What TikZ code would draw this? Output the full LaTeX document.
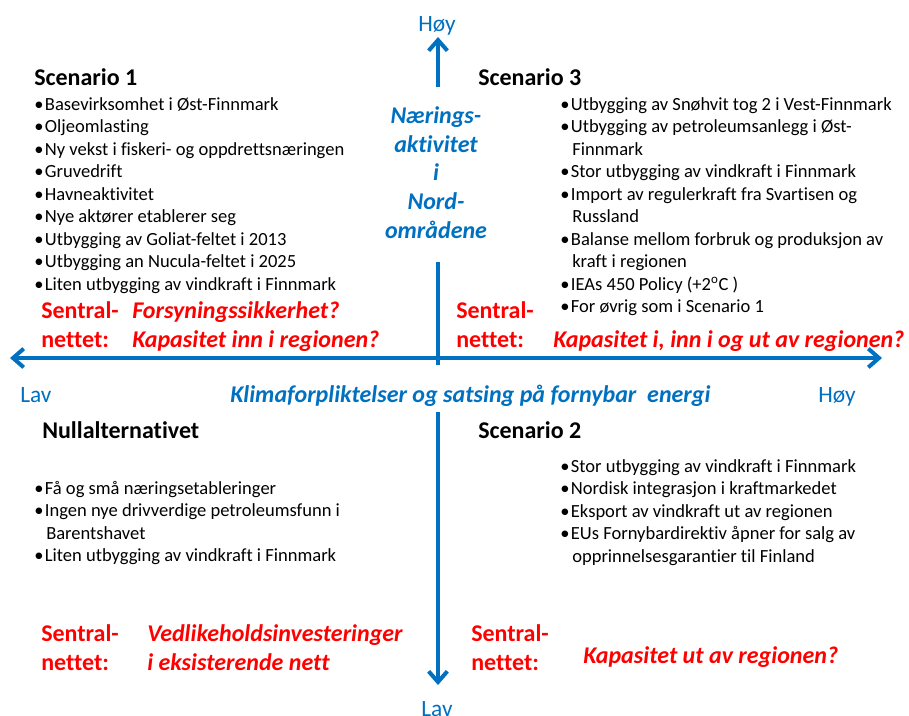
\documentclass[tikz,border=0pt]{standalone}
\usepackage{fontspec}
\setmainfont{Carlito}[Ligatures=NoCommon]
\usetikzlibrary{arrows.meta}
\definecolor{axisblue}{RGB}{0,112,192}
\definecolor{netred}{RGB}{255,0,0}
\newcommand{\itm}{\makebox[8pt][l]{\textbullet}}
\newcommand{\cnt}{\hspace*{9pt}}

\begin{document}
\begin{tikzpicture}[
        x=0.75pt, y=-0.75pt,
        axis/.style={draw=axisblue, line width=3pt, -{Straight Barb[length=8pt,width=14pt]}},
        axlabel/.style={text=axisblue, font=\fontsize{17.5}{21}\selectfont, inner sep=0pt, anchor=base},
        axtitle/.style={text=axisblue, font=\fontsize{18}{21.5}\selectfont\bfseries\itshape,
                        align=center, inner sep=0pt, anchor=base},
        heading/.style={font=\fontsize{18}{21.5}\selectfont\bfseries, inner sep=0pt, anchor=base west},
        items/.style={font=\fontsize{13.9}{16.875}\selectfont, align=left, inner sep=0pt, anchor=base west},
        net/.style={text=netred, font=\fontsize{18}{21.5}\selectfont\bfseries, align=left,
                    inner sep=0pt, anchor=base west},
        netq/.style={net, font=\fontsize{18}{21.5}\selectfont\bfseries\itshape}
    ]
        \useasboundingbox (0,0) rectangle (909,715);

        \coordinate (vtop) at (438,37);
        \coordinate (vtail) at (438,87);
        \coordinate (vmida) at (438,262);
        \coordinate (vmidb) at (438,365);
        \coordinate (vlowa) at (438,412);
        \coordinate (vbot) at (438,685);
        \coordinate (hleft) at (10,358);
        \coordinate (hright) at (882,358);

        \draw[axis] (vtail) -- (vtop);
        \draw[axis, -] (vmida) -- (vmidb);
        \draw[axis] (vlowa) -- (vbot);
        \draw[axis, {Straight Barb[length=8pt,width=14pt]}-{Straight Barb[length=8pt,width=14pt]}] (hleft) -- (hright);

        \node[axlabel] (hoytop) at (437,31) {Høy};
        \node[axlabel] (lavbot) at (437,716) {Lav};
        \node[axlabel, anchor=base west] (lavleft) at (20,402) {Lav};
        \node[axlabel, anchor=base west] (hoyright) at (818,402) {Høy};
        \node[axtitle] (naering) at (436,238) {Nærings-\\aktivitet\\i\\Nord-\\områdene};
        \node[axtitle, anchor=base west] (klima) at (230,402) {Klimaforpliktelser og satsing på fornybar~ energi};

        \node[heading] (sc1) at (34,85) {Scenario 1};
        \node[items] (sc1list) at (34,290) {\itm Basevirksomhet i Øst-Finnmark\\
            \itm Oljeomlasting\\
            \itm Ny vekst i fiskeri- og oppdrettsnæringen\\
            \itm Gruvedrift\\
            \itm Havneaktivitet\\
            \itm Nye aktører etablerer seg\\
            \itm Utbygging av Goliat-feltet i 2013\\
            \itm Utbygging an Nucula-feltet i 2025\\
            \itm Liten utbygging av vindkraft i Finnmark};
        \node[net] (sc1net) at (41,347) {Sentral-\\nettet:};
        \node[netq] (sc1q) at (132,347) {Forsyningssikkerhet?\\Kapasitet inn i regionen?};

        \node[heading] (sc3) at (478,85) {Scenario 3};
        \node[items] (sc3list) at (560,312.5) {\itm Utbygging av Snøhvit tog 2 i Vest-Finnmark\\
            \itm Utbygging av petroleumsanlegg i Øst-\\
            \cnt Finnmark\\
            \itm Stor utbygging av vindkraft i Finnmark\\
            \itm Import av regulerkraft fra Svartisen og\\
            \cnt Russland\\
            \itm Balanse mellom forbruk og produksjon av\\
            \cnt kraft i regionen\\
            \itm IEAs 450 Policy (+2\textsuperscript{o}C )\\
            \itm For øvrig som i Scenario 1};
        \node[net] (sc3net) at (456,347) {Sentral-\\nettet:};
        \node[netq] (sc3q) at (553,347) {Kapasitet i, inn i og ut av regionen?};

        \node[heading] (sc0) at (42,438) {Nullalternativet};
        \node[items] (sc0list) at (34,561.5) {\itm Få og små næringsetableringer\\
            \itm Ingen nye drivverdige petroleumsfunn i\\
            \cnt Barentshavet\\
            \itm Liten utbygging av vindkraft i Finnmark};
        \node[net] (sc0net) at (41,670) {Sentral-\\nettet:};
        \node[netq] (sc0q) at (147,670) {Vedlikeholdsinvesteringer\\i eksisterende nett};

        \node[heading] (sc2) at (478,438) {Scenario 2};
        \node[items] (sc2list) at (560,562) {\itm Stor utbygging av vindkraft i Finnmark\\
            \itm Nordisk integrasjon i kraftmarkedet\\
            \itm Eksport av vindkraft ut av regionen\\
            \itm EUs Fornybardirektiv åpner for salg av\\
            \cnt opprinnelsesgarantier til Finland};
        \node[net] (sc2net) at (471,670) {Sentral-\\nettet:};
        \node[netq] (sc2q) at (583,663) {Kapasitet ut av regionen?};
    \end{tikzpicture}
\end{document}
